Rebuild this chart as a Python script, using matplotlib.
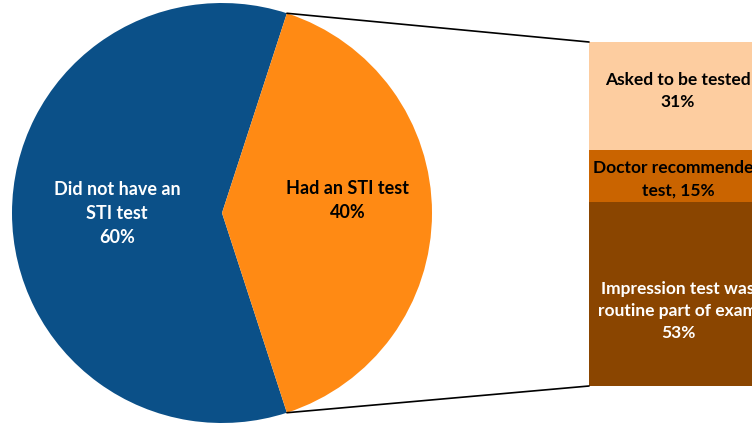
import numpy as np
import matplotlib
matplotlib.use("Agg")
import matplotlib.pyplot as plt
from matplotlib.patches import ConnectionPatch

# Pie: whether an STI test was done
pie_labels = ["Did not have an\nSTI test", "Had an STI test"]
pie_values = [60, 40]
pie_colors = ["#0B5088", "#FF8A14"]
pie_text_colors = ["white", "black"]

# Bar: reasons among those who had a test (top to bottom)
bar_labels = ["Asked to be tested", "Doctor recommended\ntest,", "Impression test was\nroutine part of exam"]
bar_values = [31, 15, 53]
bar_colors = ["#FDCDA0", "#CA6400", "#8A4500"]
bar_text_colors = ["black", "black", "white"]
bar_label_sep = ["\n", " ", "\n"]

W, H = 752, 426
fig = plt.figure(figsize=(W / 100, H / 100), dpi=100)
family = ["Lato", "DejaVu Sans"]

# --- pie ---
ax = fig.add_axes([0, 0, 1, 1])
cx, cy, r = 222, 213, 210
start = 360 * pie_values[1] / 100 / 2  # orange wedge centred on the right
wedges, _ = ax.pie(pie_values, colors=pie_colors, startangle=start, counterclock=True,
                   center=(cx, cy), radius=r, frame=True,
                   wedgeprops=dict(linewidth=0))
ax.set_xlim(0, W)
ax.set_ylim(0, H)
ax.set_aspect("equal")
ax.axis("off")

label_dist = [0.5, 0.6]
label_dy = [0, 12]
for w, lab, val, tc, d, dy in zip(wedges, pie_labels, pie_values, pie_text_colors, label_dist, label_dy):
    mid = np.deg2rad((w.theta1 + w.theta2) / 2)
    ax.text(cx + d * r * np.cos(mid), cy + d * r * np.sin(mid) + dy, f"{lab}\n{val}%",
            ha="center", va="center", color=tc, linespacing=1.5,
            family=family, fontweight="bold", fontsize=13)

# --- stacked bar ---
bar_left, bar_w = 589, 178
bar_top, bar_bottom = 42, 386
axb = fig.add_axes([bar_left / W, (H - bar_bottom) / H, bar_w / W, (bar_bottom - bar_top) / H])
total = sum(bar_values)
axb.set_xlim(-0.5, 0.5)
axb.set_ylim(0, total)
axb.axis("off")
bottom = total
text_offsets = [1.5, -1.0, -5.0]
for lab, val, col, tc, sep, off in zip(bar_labels, bar_values, bar_colors, bar_text_colors, bar_label_sep, text_offsets):
    bottom -= val
    axb.bar(0, val, bottom=bottom, width=1.0, color=col, linewidth=0)
    axb.text(0, bottom + val / 2 + off, f"{lab}{sep}{val}%", ha="center", va="center",
             color=tc, linespacing=1.45, family=family, fontweight="bold", fontsize=12.5)

# --- connector lines ---
t_top = np.deg2rad(wedges[1].theta2)
t_bot = np.deg2rad(wedges[1].theta1)
for t, yb in [(t_top, total), (t_bot, 0)]:
    con = ConnectionPatch(xyA=(cx + r * np.cos(t), cy + r * np.sin(t)), coordsA=ax.transData,
                          xyB=(-0.5, yb), coordsB=axb.transData, color="black", linewidth=1.2)
    fig.add_artist(con)

fig.savefig("out.png", dpi=100)
